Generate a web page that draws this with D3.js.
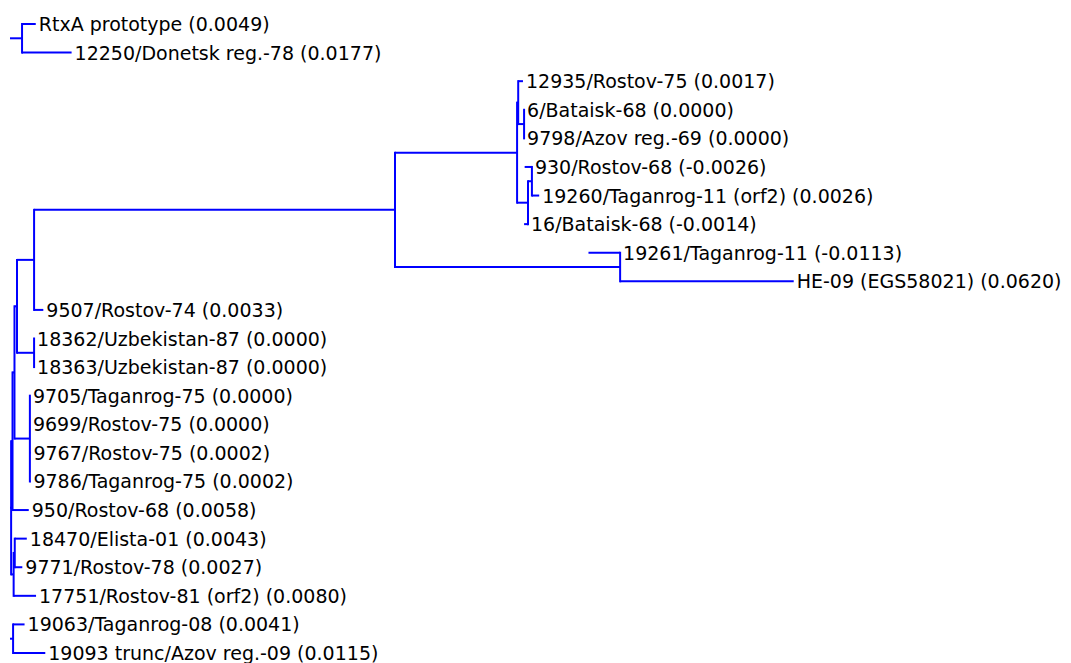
<!DOCTYPE html>
<html>
<head>
<meta charset="utf-8">
<script src="https://cdn.jsdelivr.net/npm/d3@7/dist/d3.min.js"></script>
<style>
  html, body { margin: 0; padding: 0; background: #ffffff; }
  svg { display: block; }
  .label { font-family: "DejaVu Sans", Verdana, sans-serif; font-size: 19px; fill: #000; }
  .branch { stroke: #0000ff; stroke-width: 2; fill: none; }
</style>
</head>
<body>
<svg id="chart" width="1071" height="663"></svg>
<script>
// Tree topology as parallel arrays: node id, parent id, branch length.
// Leaves carry their taxon name; internal nodes use short ids.
const nodeIds = [
  "root",
  "top", "RtxA prototype", "12250/Donetsk reg.-78",
  "main", "N1", "N2", "NB", "NA", "BIG", "U1", "Y",
  "12935/Rostov-75", "V", "6/Bataisk-68", "9798/Azov reg.-69",
  "W", "X", "930/Rostov-68", "19260/Taganrog-11 (orf2)", "16/Bataisk-68",
  "L1", "19261/Taganrog-11", "HE-09 (EGS58021)",
  "9507/Rostov-74",
  "U", "18362/Uzbekistan-87", "18363/Uzbekistan-87",
  "T", "9705/Taganrog-75", "9699/Rostov-75", "9767/Rostov-75", "9786/Taganrog-75",
  "950/Rostov-68",
  "N3", "Q", "18470/Elista-01", "9771/Rostov-78", "17751/Rostov-81 (orf2)",
  "bottom", "19063/Taganrog-08", "19093 trunc/Azov reg.-09"
];
const parentIds = [
  null,
  "root", "top", "top",
  "root", "main", "N1", "N2", "NB", "NA", "BIG", "U1",
  "Y", "Y", "V", "V",
  "U1", "W", "X", "X", "W",
  "BIG", "L1", "L1",
  "NA",
  "NB", "U", "U",
  "N2", "T", "T", "T", "T",
  "N1",
  "main", "N3", "Q", "Q", "N3",
  "root", "bottom", "bottom"
];
const branchLengths = [
  0,
  0.0043, 0.0049, 0.0177,
  0.0004, 0.0005, 0.0007, 0.0009, 0.0061, 0.1289, 0.0436, 0.0004,
  0.0017, 0.0021, 0.0000, 0.0000,
  0.0039, 0.0014, -0.0026, 0.0026, -0.0014,
  0.0804, -0.0113, 0.0620,
  0.0033,
  0.0061, 0.0000, 0.0000,
  0.0055, 0.0000, 0.0000, 0.0002, 0.0002,
  0.0058,
  0.0009, 0.0004, 0.0043, 0.0027, 0.0080,
  0.0011, 0.0041, 0.0115
];

const rows = nodeIds.map((id, i) => ({ id, parent: parentIds[i], len: branchLengths[i] }));
const root = d3.stratify().id(d => d.id).parentId(d => d.parent)(rows);

// Cumulative distance from the root
root.eachBefore(n => { n.dist = n.parent ? n.parent.dist + n.data.len : 0; });

const leaves = root.leaves();
const x = d3.scaleLinear().domain([0, 0.1]).range([10, 290]);
const y = d3.scaleLinear().domain([0, leaves.length - 1]).range([24, 653]);

leaves.forEach((l, i) => { l.yPos = y(i); });
root.eachAfter(n => {
  if (n.children) {
    n.yPos = (n.children[0].yPos + n.children[n.children.length - 1].yPos) / 2;
  }
  n.xPos = x(n.dist);
});

const svg = d3.select("#chart");
const g = svg.append("g");

// Horizontal branches
const nonRoot = root.descendants().filter(n => n.parent);
g.selectAll("line.h")
  .data(nonRoot)
  .join("line")
  .attr("class", "branch")
  .attr("x1", d => d.parent.xPos)
  .attr("x2", d => d.xPos)
  .attr("y1", d => d.yPos)
  .attr("y2", d => d.yPos);

// Vertical connectors of internal nodes (the root connector is not shown)
const internal = root.descendants().filter(n => n.children && n.parent);
g.selectAll("line.v")
  .data(internal)
  .join("line")
  .attr("class", "branch")
  .attr("x1", d => d.xPos)
  .attr("x2", d => d.xPos)
  .attr("y1", d => d.children[0].yPos - 1)
  .attr("y2", d => d.children[d.children.length - 1].yPos + 1);

// Leaf labels with branch lengths (plain hyphen for negatives)
const fmt = d3.formatLocale({
  decimal: ".", thousands: ",", grouping: [3], currency: ["", ""], minus: "-"
}).format(".4f");
g.selectAll("text.label")
  .data(leaves)
  .join("text")
  .attr("class", "label")
  .attr("x", d => Math.max(d.xPos, d.parent.xPos) + 3)
  .attr("y", d => d.yPos)
  .attr("dy", "0.37em")
  .text(d => `${d.data.id} (${fmt(d.data.len)})`);
</script>
</body>
</html>
